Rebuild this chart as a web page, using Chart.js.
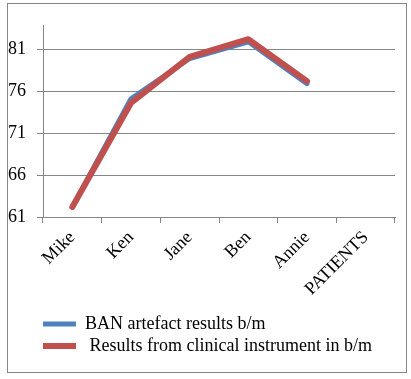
<!DOCTYPE html>
<html>
<head>
<meta charset="utf-8">
<script src="https://cdn.jsdelivr.net/npm/chart.js@4/dist/chart.umd.min.js"></script>
<style>
  html, body { margin: 0; padding: 0; background: #fff; }
  #frame { position: absolute; left: 7px; top: 3px; width: 398px; height: 368px; border: 1px solid #868686; }
</style>
</head>
<body>
<div id="frame"><canvas id="chart" width="398" height="368"></canvas></div>
<script>
// patients on the x axis, heart rate in b/m
const patients = ['Mike', 'Ken', 'Jane', 'Ben', 'Annie', 'PATIENTS'];
const banResults = [62.2, 75.1, 79.9, 81.9, 76.9, null];
const clinicalResults = [62.2, 74.6, 80.1, 82.2, 77.2, null];
const yTicks = [61, 66, 71, 76, 81];

const serif = 'Liberation Serif, Times New Roman, serif';
const gridGray = '#868686';

// legend sits under the plot, indented like the original
const legendIndent = {
  id: 'legendIndent',
  afterLayout(chart) {
    if (chart.legend) chart.legend.left = 31;
  },
};

new Chart(document.getElementById('chart'), {
  type: 'line',
  data: {
    labels: patients,
    datasets: [
      {
        label: 'BAN artefact results b/m',
        data: banResults,
        borderColor: '#4F81BD',
        backgroundColor: '#4F81BD',
        borderWidth: 5,
        borderCapStyle: 'round',
        borderJoinStyle: 'round',
        pointRadius: 0,
        tension: 0,
        order: 1,
      },
      {
        label: ' Results from clinical instrument in b/m',
        data: clinicalResults,
        borderColor: '#C0504D',
        backgroundColor: '#C0504D',
        borderWidth: 6,
        borderCapStyle: 'round',
        borderJoinStyle: 'round',
        pointRadius: 0,
        tension: 0,
        order: 0,
      },
    ],
  },
  options: {
    responsive: false,
    animation: false,
    layout: { padding: { left: 0, right: 11, top: 19, bottom: 7 } },
    plugins: {
      tooltip: { enabled: false },
      legend: {
        position: 'bottom',
        align: 'start',
        labels: {
          usePointStyle: true,
          pointStyle: 'line',
          pointStyleWidth: 33,
          boxWidth: 33,
          padding: 4,
          color: '#000',
          font: { family: serif, size: 18 },
          sort: (a, b) => a.datasetIndex - b.datasetIndex,
        },
      },
    },
    scales: {
      x: {
        offset: true,
        grid: { offset: true, drawOnChartArea: false, drawTicks: true, tickLength: 6, color: gridGray },
        border: { color: gridGray },
        ticks: { color: '#000', font: { family: serif, size: 18 }, minRotation: 45, maxRotation: 45, padding: 4, autoSkip: false },
        afterFit: s => { s.height = 94; },
      },
      y: {
        min: 61,
        max: 83.8,
        afterBuildTicks: s => { s.ticks = yTicks.map(v => ({ value: v })); },
        grid: { color: gridGray, tickLength: 6 },
        border: { color: gridGray },
        ticks: { color: '#000', font: { family: serif, size: 18 }, padding: 11 },
        afterFit: s => { s.width = 35; },
      },
    },
  },
  plugins: [legendIndent],
});
</script>
</body>
</html>
